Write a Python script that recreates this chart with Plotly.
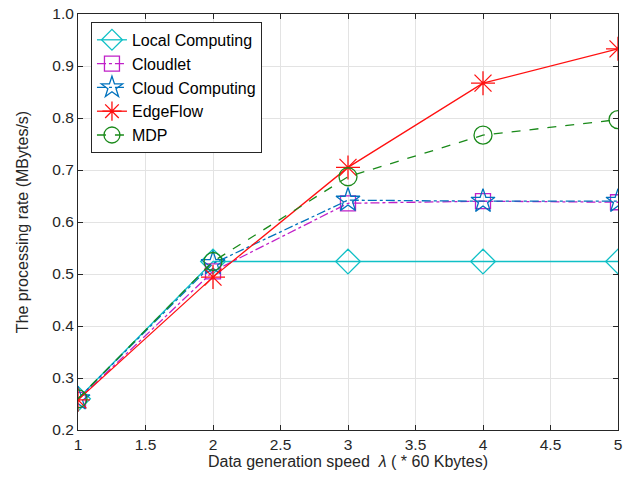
import plotly.graph_objects as go

x_vals = [1, 2, 3, 4, 5]
local_computing = [0.260, 0.524, 0.524, 0.524, 0.524]
cloudlet = [0.258, 0.505, 0.636, 0.640, 0.638]
cloud_computing = [0.260, 0.520, 0.642, 0.640, 0.640]
edgeflow = [0.258, 0.494, 0.705, 0.867, 0.933]
mdp = [0.260, 0.524, 0.687, 0.767, 0.797]

x_ticks = [1, 1.5, 2, 2.5, 3, 3.5, 4, 4.5, 5]
x_tick_labels = ["1", "1.5", "2", "2.5", "3", "3.5", "4", "4.5", "5"]
y_ticks = [0.2, 0.3, 0.4, 0.5, 0.6, 0.7, 0.8, 0.9, 1.0]
y_tick_labels = ["0.2", "0.3", "0.4", "0.5", "0.6", "0.7", "0.8", "0.9", "1.0"]

FONT = "Liberation Sans, Arial, sans-serif"
AX = "#262626"

series = [
    ("Local Computing", local_computing, "#10C0C6", "solid", "diamond-open", 19),
    ("Cloudlet", cloudlet, "#C020C8", "dashdot", "square-open", 15),
    ("Cloud Computing", cloud_computing, "#0072BD", "dashdot", "star-open", 18),
    ("EdgeFlow", edgeflow, "#FF1010", "solid", "asterisk-open", 20),
    ("MDP", mdp, "#1A8A1A", "dash", "circle-open", 18),
]

fig = go.Figure()
for name, vals, color, dash, symbol, size in series:
    fig.add_trace(go.Scatter(
        x=x_vals, y=vals, name=name, mode="lines+markers",
        line=dict(color=color, width=1.3, dash=dash),
        marker=dict(symbol=symbol, size=size, color=color,
                    line=dict(color=color, width=1.3)),
    ))

axis_common = dict(
    showline=True, linecolor=AX, linewidth=1, mirror="ticks",
    ticks="inside", ticklen=5, tickcolor=AX, tickwidth=1,
    showgrid=True, gridcolor="#E3E3E3", gridwidth=1, zeroline=False,
    tickfont=dict(family=FONT, size=15.5, color=AX),
    ticklabeloverflow="allow",
    automargin=False,
)

fig.update_xaxes(
    range=[1, 5], tickvals=x_ticks, ticktext=x_tick_labels,
    title=dict(text="Data generation speed  <i>λ</i> ( * 60 Kbytes)",
               font=dict(family=FONT, size=16, color=AX), standoff=4),
    **axis_common,
)
fig.update_yaxes(
    range=[0.2, 1.0], tickvals=y_ticks, ticktext=y_tick_labels,
    title=dict(text="The processing rate (MBytes/s)",
               font=dict(family=FONT, size=16, color=AX), standoff=19),
    **axis_common,
)

fig.update_layout(
    width=637, height=491,
    margin=dict(l=78, r=19, t=14, b=61),
    paper_bgcolor="white", plot_bgcolor="white",
    font=dict(family=FONT, color=AX),
    legend=dict(
        x=0.024, y=0.981, xanchor="left", yanchor="top",
        bgcolor="white", bordercolor=AX, borderwidth=1,
        font=dict(family=FONT, size=16, color="black"),
        itemwidth=30, tracegroupgap=0,
    ),
    showlegend=True,
)

# remove the browser's default body margin so the figure sits at the page origin
fig.write_html(
    "out.html",
    config={"displayModeBar": False},
    post_script="document.body.style.margin='0';document.body.style.overflow='hidden';",
)
